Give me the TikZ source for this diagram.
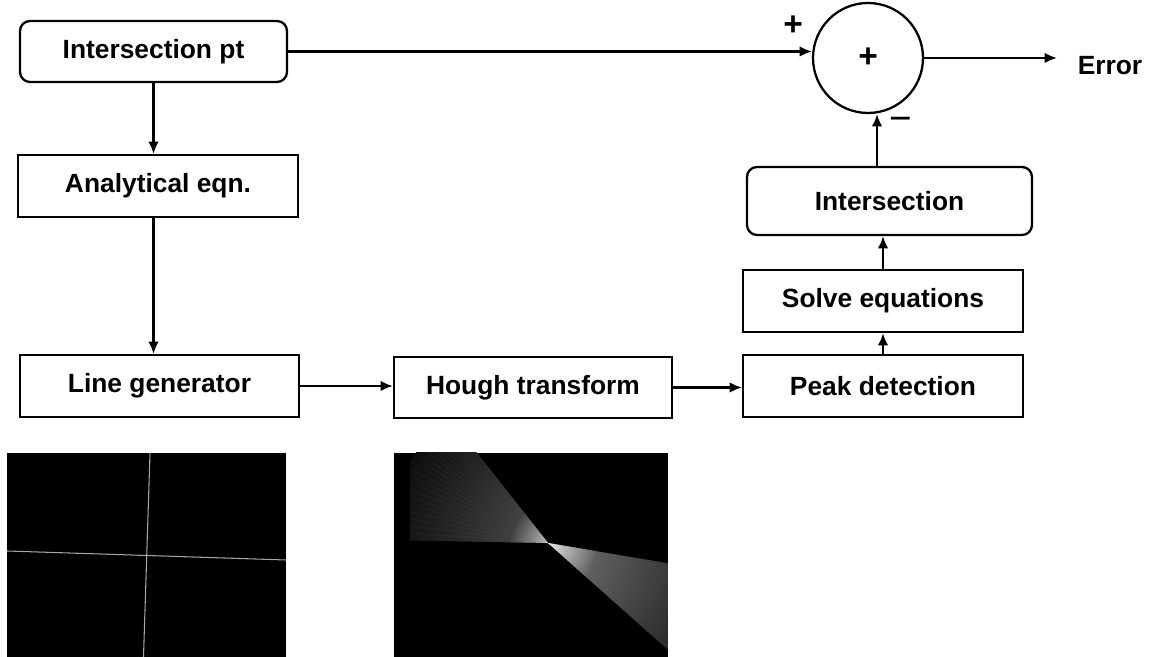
\documentclass[tikz,border=0pt]{standalone}
\usepackage{fontspec}
\setmainfont{Liberation Sans}
\usetikzlibrary{arrows.meta}

\begin{document}
\begin{tikzpicture}[>={Latex[length=7pt,width=6pt]},line width=1.3pt]
\tikzstyle{every node}=[font=\bfseries\fontsize{15}{18}\selectfont]
\tikzstyle{block}=[rectangle,draw,minimum width=5.6cm,minimum height=1.24cm]
\tikzstyle{rblock}=[block,rounded corners=0.2cm]
\tikzstyle{sum}=[circle,draw,minimum size=2.2cm,inner sep=0pt,font=\bfseries\fontsize{19}{20}\selectfont]
\useasboundingbox (0,0) rectangle (22.98,13.14);

\node[rblock,minimum width=5.34cm,minimum height=1.22cm](IP) at (3.07,12.11) {Intersection pt};
\node[block](AE) at (3.16,9.42) {Analytical eqn.};
\node[block,minimum width=5.58cm](LG) at (3.19,5.42) {Line generator};
\node[block,minimum width=5.56cm,minimum height=1.22cm](HT) at (10.66,5.39) {Hough transform};
\node[block](PD) at (17.66,5.42) {Peak detection};
\node[block](SE) at (17.66,7.12) {Solve equations};
\node[rblock,minimum width=5.7cm,minimum height=1.36cm](IN) at (17.79,9.12) {Intersection};
\node[sum](S) at (17.36,11.98) {+};
\node[font=\bfseries\fontsize{19}{20}\selectfont] (plus) at (15.86,12.62) {+};
\node[font=\fontsize{22}{24}\selectfont] (minus) at (18.02,10.66) {−};
\node (Err) at (22.2,11.82) {Error};
\coordinate (ErrTip) at (21.14,11.98);

\draw[->] (IP.south) -- (IP.south |- AE.north);
\draw[->] (IP.south |- AE.south) -- (IP.south |- LG.north);
\draw[->] (LG.east) -- (LG.east -| HT.west);
\draw[->] (HT.east) -- (HT.east -| PD.west);
\draw[->] (PD.north) -- (SE.south);
\draw[->] (SE.north) -- (SE.north |- IN.south);
\draw[->] ([xshift=-0.25cm]IN.north) -- ([xshift=-0.25cm]IN.north |- S.south);
\draw[->] (IP.east) -- (IP.east -| S.west);
\draw[->] (S.east) -- (ErrTip);

% line image
\fill[black] (0.14,0) rectangle (5.72,4.08);
\draw[gray!70,line width=0.6pt] (3.0,4.08) -- (2.87,0);
\draw[gray!70,line width=0.6pt] (0.14,2.12) -- (5.72,1.94);

% hough image
\fill[black] (7.88,0) rectangle (13.36,4.08);
\begin{scope}
\clip (7.88,0) rectangle (13.36,4.08);
\begin{scope}
\clip (10.96,2.28) -- ++(-2.76,0.055) -- ++(0,3.45) -- cycle;
\shade[inner color=white!30!black,outer color=white!5!black] (10.96,2.28) circle (3.2);
\shade[inner color=white!70!black,outer color=white!22!black] (10.96,2.28) circle (0.8);
\end{scope}
\begin{scope}
\clip (10.96,2.28) -- ++(2.4,-0.408) -- ++(0,-1.728) -- cycle;
\shade[inner color=white!45!black,outer color=white!15!black] (10.96,2.28) circle (3.2);
\shade[inner color=white!88!black,outer color=white!36!black] (10.96,2.28) circle (1.0);
\end{scope}
\foreach \i in {0,...,24}{
  \pgfmathsetmacro\mL{0.02+1.25*\i/24}
  \pgfmathsetmacro\mR{0.17+0.72*\i/24}
  \draw[white,opacity=0.05,line width=0.3pt] (10.96,2.28) -- ++(-2.76,{2.76*\mL});
  \draw[white,opacity=0.06,line width=0.3pt] (10.96,2.28) -- ++(2.4,{-2.4*\mR});
}
\end{scope}
\end{tikzpicture}
\end{document}
